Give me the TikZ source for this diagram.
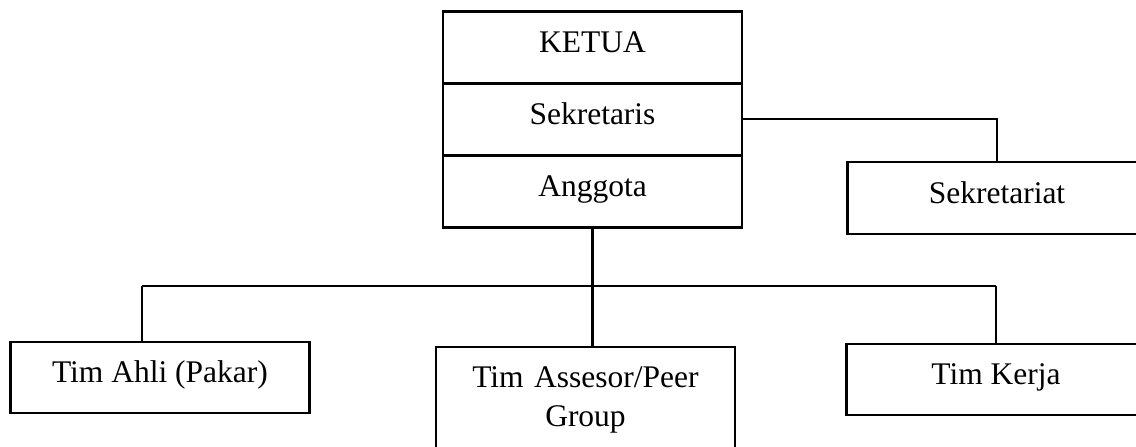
\documentclass[tikz,border=0pt]{standalone}
\usepackage{fontspec}
\setmainfont{Liberation Serif}
\usepackage{tikz}

\begin{document}
\begin{tikzpicture}[x=0.5pt, y=-0.5pt, line width=1.1pt,
    font=\fontsize{15.75}{19.5}\selectfont,
    unitbox/.style={draw, inner sep=0pt, minimum width=149.5pt,
        minimum height=36pt, text height=11pt, text depth=6pt}]

\useasboundingbox (0,0) rectangle (1136,446);
\clip (0,0) rectangle (1136,446);

% Pimpinan
\node[unitbox] (ketua) at (592.5,47.5) {KETUA};
\node[unitbox] (sekretaris) at (592.5,119) {Sekretaris};
\node[unitbox] (anggota) at (592.5,191.5) {Anggota};

\node[unitbox] (sekretariat) at (997,198) {Sekretariat};

% Tim
\node[unitbox, minimum height=35.5pt] (ahli) at (160,377.5) {Tim Ahli (Pakar)};
\node[draw, anchor=north, minimum width=149.5pt, inner xsep=0pt, inner ysep=9pt,
    text width=149.5pt, align=center, text height=11pt] (assesor) at (585.5,346)
    {Tim Assesor/Peer\\Group};
\node[unitbox, minimum height=35.5pt] (kerja) at (996,379.5) {Tim Kerja};

% Garis
\coordinate (busL) at (142,286);
\coordinate (busR) at (996,286);

\draw (sekretaris.east) -| (sekretariat.north);
\draw (anggota.south) -- (anggota.south |- busL);
\draw (busL) -- (busR);
\draw (busL) -- (busL |- ahli.north);
\draw (anggota.south |- busL) -- (anggota.south |- assesor.north);
\draw (busR) -- (busR |- kerja.north);

\end{tikzpicture}
\end{document}
